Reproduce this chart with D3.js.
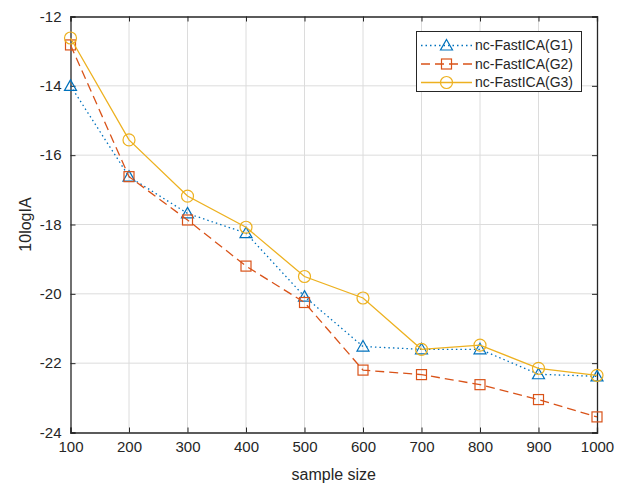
<!DOCTYPE html>
<html>
<head>
<meta charset="utf-8">
<script src="https://cdn.jsdelivr.net/npm/d3@7"></script>
<style>
  body { margin: 0; background: #fff; }
  text { font-family: "Liberation Sans", Arial, sans-serif; fill: #262626; }
</style>
</head>
<body>
<script>
var width = 624,
    height = 484;

var sizes = [100, 200, 300, 400, 500, 600, 700, 800, 900, 1000];
var g1 = [-14.0, -16.62, -17.68, -18.25, -20.08, -21.52, -21.6, -21.6, -22.32, -22.38];
var g2 = [-12.82, -16.62, -17.87, -19.2, -20.25, -22.2, -22.33, -22.62, -23.05, -23.55];
var g3 = [-12.62, -15.56, -17.18, -18.08, -19.5, -20.12, -21.6, -21.48, -22.15, -22.35];
var names = ["nc-FastICA(G1)", "nc-FastICA(G2)", "nc-FastICA(G3)"];
var yTicks = [-24, -22, -20, -18, -16, -14, -12];

var series = [
  {name: names[0], values: g1, color: "#0072BD", dash: "1.5,3", marker: "tri"},
  {name: names[1], values: g2, color: "#D95319", dash: "9,5", marker: "sq"},
  {name: names[2], values: g3, color: "#EDB120", dash: null, marker: "circ"}
];

var pLeft = 70.5, pRight = 597, pTop = 16.5, pBottom = 432.5;

var x = d3.scaleLinear().domain([100, 1000]).range([pLeft, pRight]);
var y = d3.scaleLinear().domain([-24, -12]).range([pBottom, pTop]);

var svg = d3.select("body").append("svg")
    .attr("width", width)
    .attr("height", height);

// grid
svg.append("g").selectAll("line")
    .data(sizes.slice(1, -1))
    .enter().append("line")
    .attr("x1", function(d) { return x(d); })
    .attr("x2", function(d) { return x(d); })
    .attr("y1", pTop).attr("y2", pBottom)
    .attr("stroke", "#dcdcdc").attr("stroke-width", 1);
svg.append("g").selectAll("line")
    .data(yTicks.slice(1, -1))
    .enter().append("line")
    .attr("y1", function(d) { return y(d); })
    .attr("y2", function(d) { return y(d); })
    .attr("x1", pLeft).attr("x2", pRight)
    .attr("stroke", "#dcdcdc").attr("stroke-width", 1);

// axes (plain hyphen minus like matlab)
var fmt = function(d) { return String(d); };
var xAxis = d3.axisBottom(x).tickValues(sizes).tickFormat(fmt).tickSize(-5).tickPadding(9);
var yAxis = d3.axisLeft(y).tickValues(yTicks).tickFormat(fmt).tickSize(-5).tickPadding(9);

var gx = svg.append("g").attr("transform", "translate(0," + pBottom + ")").call(xAxis);
var gy = svg.append("g").attr("transform", "translate(" + pLeft + ",0)").call(yAxis);
svg.append("g").attr("transform", "translate(0," + pTop + ")")
    .call(d3.axisTop(x).tickValues(sizes).tickSize(-5).tickFormat(""));
svg.append("g").attr("transform", "translate(" + pRight + ",0)")
    .call(d3.axisRight(y).tickValues(yTicks).tickSize(-5).tickFormat(""));

svg.selectAll(".domain").attr("stroke", "#262626").attr("stroke-width", 1.3);
svg.selectAll(".tick line").attr("stroke", "#262626");
gx.selectAll("text").style("font-size", "15px");
gy.selectAll("text").style("font-size", "15px");

// labels
svg.append("text")
    .attr("x", (pLeft + pRight) / 2).attr("y", 480)
    .attr("text-anchor", "middle")
    .style("font-size", "16px")
    .text("sample size");
svg.append("text")
    .attr("transform", "translate(31," + (pTop + pBottom) / 2 + ") rotate(-90)")
    .attr("text-anchor", "middle")
    .style("font-size", "16px")
    .text("10logIA");

var line = d3.line()
    .x(function(d, i) { return x(sizes[i]); })
    .y(function(d) { return y(d); });

function drawMarker(g, type, cx, cy, color) {
  if (type === "tri") {
    g.append("path")
      .attr("d", "M" + cx + "," + (cy - 6) + "L" + (cx + 6) + "," + (cy + 4.5) + "L" + (cx - 6) + "," + (cy + 4.5) + "Z")
      .attr("fill", "none").attr("stroke", color).attr("stroke-width", 1.2);
  } else if (type === "sq") {
    g.append("rect")
      .attr("x", cx - 5).attr("y", cy - 5).attr("width", 10).attr("height", 10)
      .attr("fill", "none").attr("stroke", color).attr("stroke-width", 1.2);
  } else {
    g.append("circle")
      .attr("cx", cx).attr("cy", cy).attr("r", 6)
      .attr("fill", "none").attr("stroke", color).attr("stroke-width", 1.2);
  }
}

series.forEach(function(s) {
  var g = svg.append("g");
  g.append("path")
    .datum(s.values)
    .attr("d", line)
    .attr("fill", "none")
    .attr("stroke", s.color)
    .attr("stroke-width", 1.3)
    .attr("stroke-dasharray", s.dash);
  s.values.forEach(function(v, i) {
    drawMarker(g, s.marker, x(sizes[i]), y(v), s.color);
  });
});

// legend
var lg = svg.append("g");
lg.append("rect")
    .attr("x", 416.5).attr("y", 31.5).attr("width", 165).attr("height", 60)
    .attr("fill", "#fff").attr("stroke", "#262626").attr("stroke-width", 1);
series.forEach(function(s, i) {
  var ly = 45.5 + i * 18.5;
  lg.append("line")
    .attr("x1", 421).attr("x2", 472).attr("y1", ly).attr("y2", ly)
    .attr("stroke", s.color).attr("stroke-width", 1.3)
    .attr("stroke-dasharray", s.dash);
  drawMarker(lg.append("g"), s.marker, 446.5, ly, s.color);
  lg.append("text")
    .attr("x", 475).attr("y", ly).attr("dy", "0.35em")
    .style("font-size", "14px")
    .text(s.name);
});
</script>
</body>
</html>
